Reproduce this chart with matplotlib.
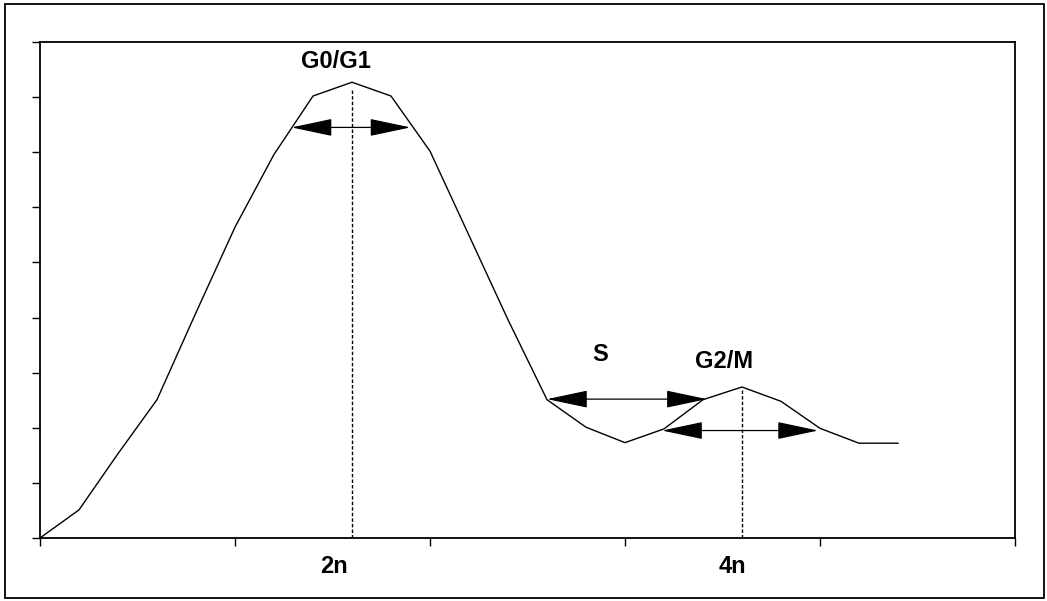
import matplotlib
matplotlib.use("Agg")
from matplotlib import pyplot as plt
from matplotlib.patches import Rectangle

# DNA content histogram (arbitrary units)
dna_content = [0.0, 0.2, 0.4, 0.6, 0.8, 1.0, 1.2, 1.4, 1.6, 1.8, 2.0, 2.2,
               2.4, 2.6, 2.8, 3.0, 3.2, 3.4, 3.6, 3.8, 4.0, 4.2, 4.4]
cell_count = [0.0, 0.51, 1.53, 2.51, 4.09, 5.64, 6.96, 8.02, 8.27, 8.02, 7.02, 5.49,
              3.96, 2.51, 2.01, 1.73, 1.98, 2.51, 2.74, 2.48, 1.99, 1.72, 1.72]

# peak markers: (x, top of dashed line)
peak_lines = [(1.6, 8.15), (3.6, 2.69)]

# phase widths: (x_start, x_end, y)
phase_arrows = [(1.29, 1.90, 7.45), (2.60, 3.42, 2.52), (3.19, 3.99, 1.95)]

# labels: (text, x, y)
phase_labels = [("G0/G1", 1.52, 8.65), ("S", 2.875, 3.33), ("G2/M", 3.51, 3.2)]
axis_labels = [("2n", 1.51), ("4n", 3.55)]

plt.rcParams['font.family'] = ['Liberation Sans', 'DejaVu Sans']

fig = plt.figure(figsize=(10.47, 6.01), dpi=100)
ax = fig.add_axes([40 / 1047, 63 / 601, 975 / 1047, 496 / 601])

ax.plot(dna_content, cell_count, color="black", lw=1.0)

for px, ptop in peak_lines:
    ax.plot([px, px], [0, ptop], color="black", lw=1.0, linestyle=(0, (2.5, 1.5)))

for x0, x1, y in phase_arrows:
    ax.annotate("", xy=(x1, y), xytext=(x0, y),
                arrowprops=dict(arrowstyle="<|-|>,head_length=2.6,head_width=0.55",
                                mutation_scale=10, color="black", lw=0.9,
                                shrinkA=0, shrinkB=0))

for txt, x, y in phase_labels:
    ax.text(x, y, txt, ha="center", va="center", fontsize=17, fontweight="bold")

for txt, x in axis_labels:
    ax.text(x, -0.52, txt, ha="center", va="center", fontsize=17, fontweight="bold")

ax.set_xlim(0, 5)
ax.set_ylim(0, 9)
ax.set_xticks([0, 1, 2, 3, 4, 5])
ax.set_yticks([0, 1, 2, 3, 4, 5, 6, 7, 8, 9])
ax.tick_params(direction="out", length=6, width=1.0, labelbottom=False, labelleft=False)
for spine in ax.spines.values():
    spine.set_linewidth(1.3)

# outer frame around the whole chart
fig.patches.append(Rectangle((5 / 1047, 3 / 601), 1039 / 1047, 594 / 601,
                             transform=fig.transFigure, fill=False,
                             edgecolor="black", lw=1.3))

fig.savefig("out.png", dpi=100)
